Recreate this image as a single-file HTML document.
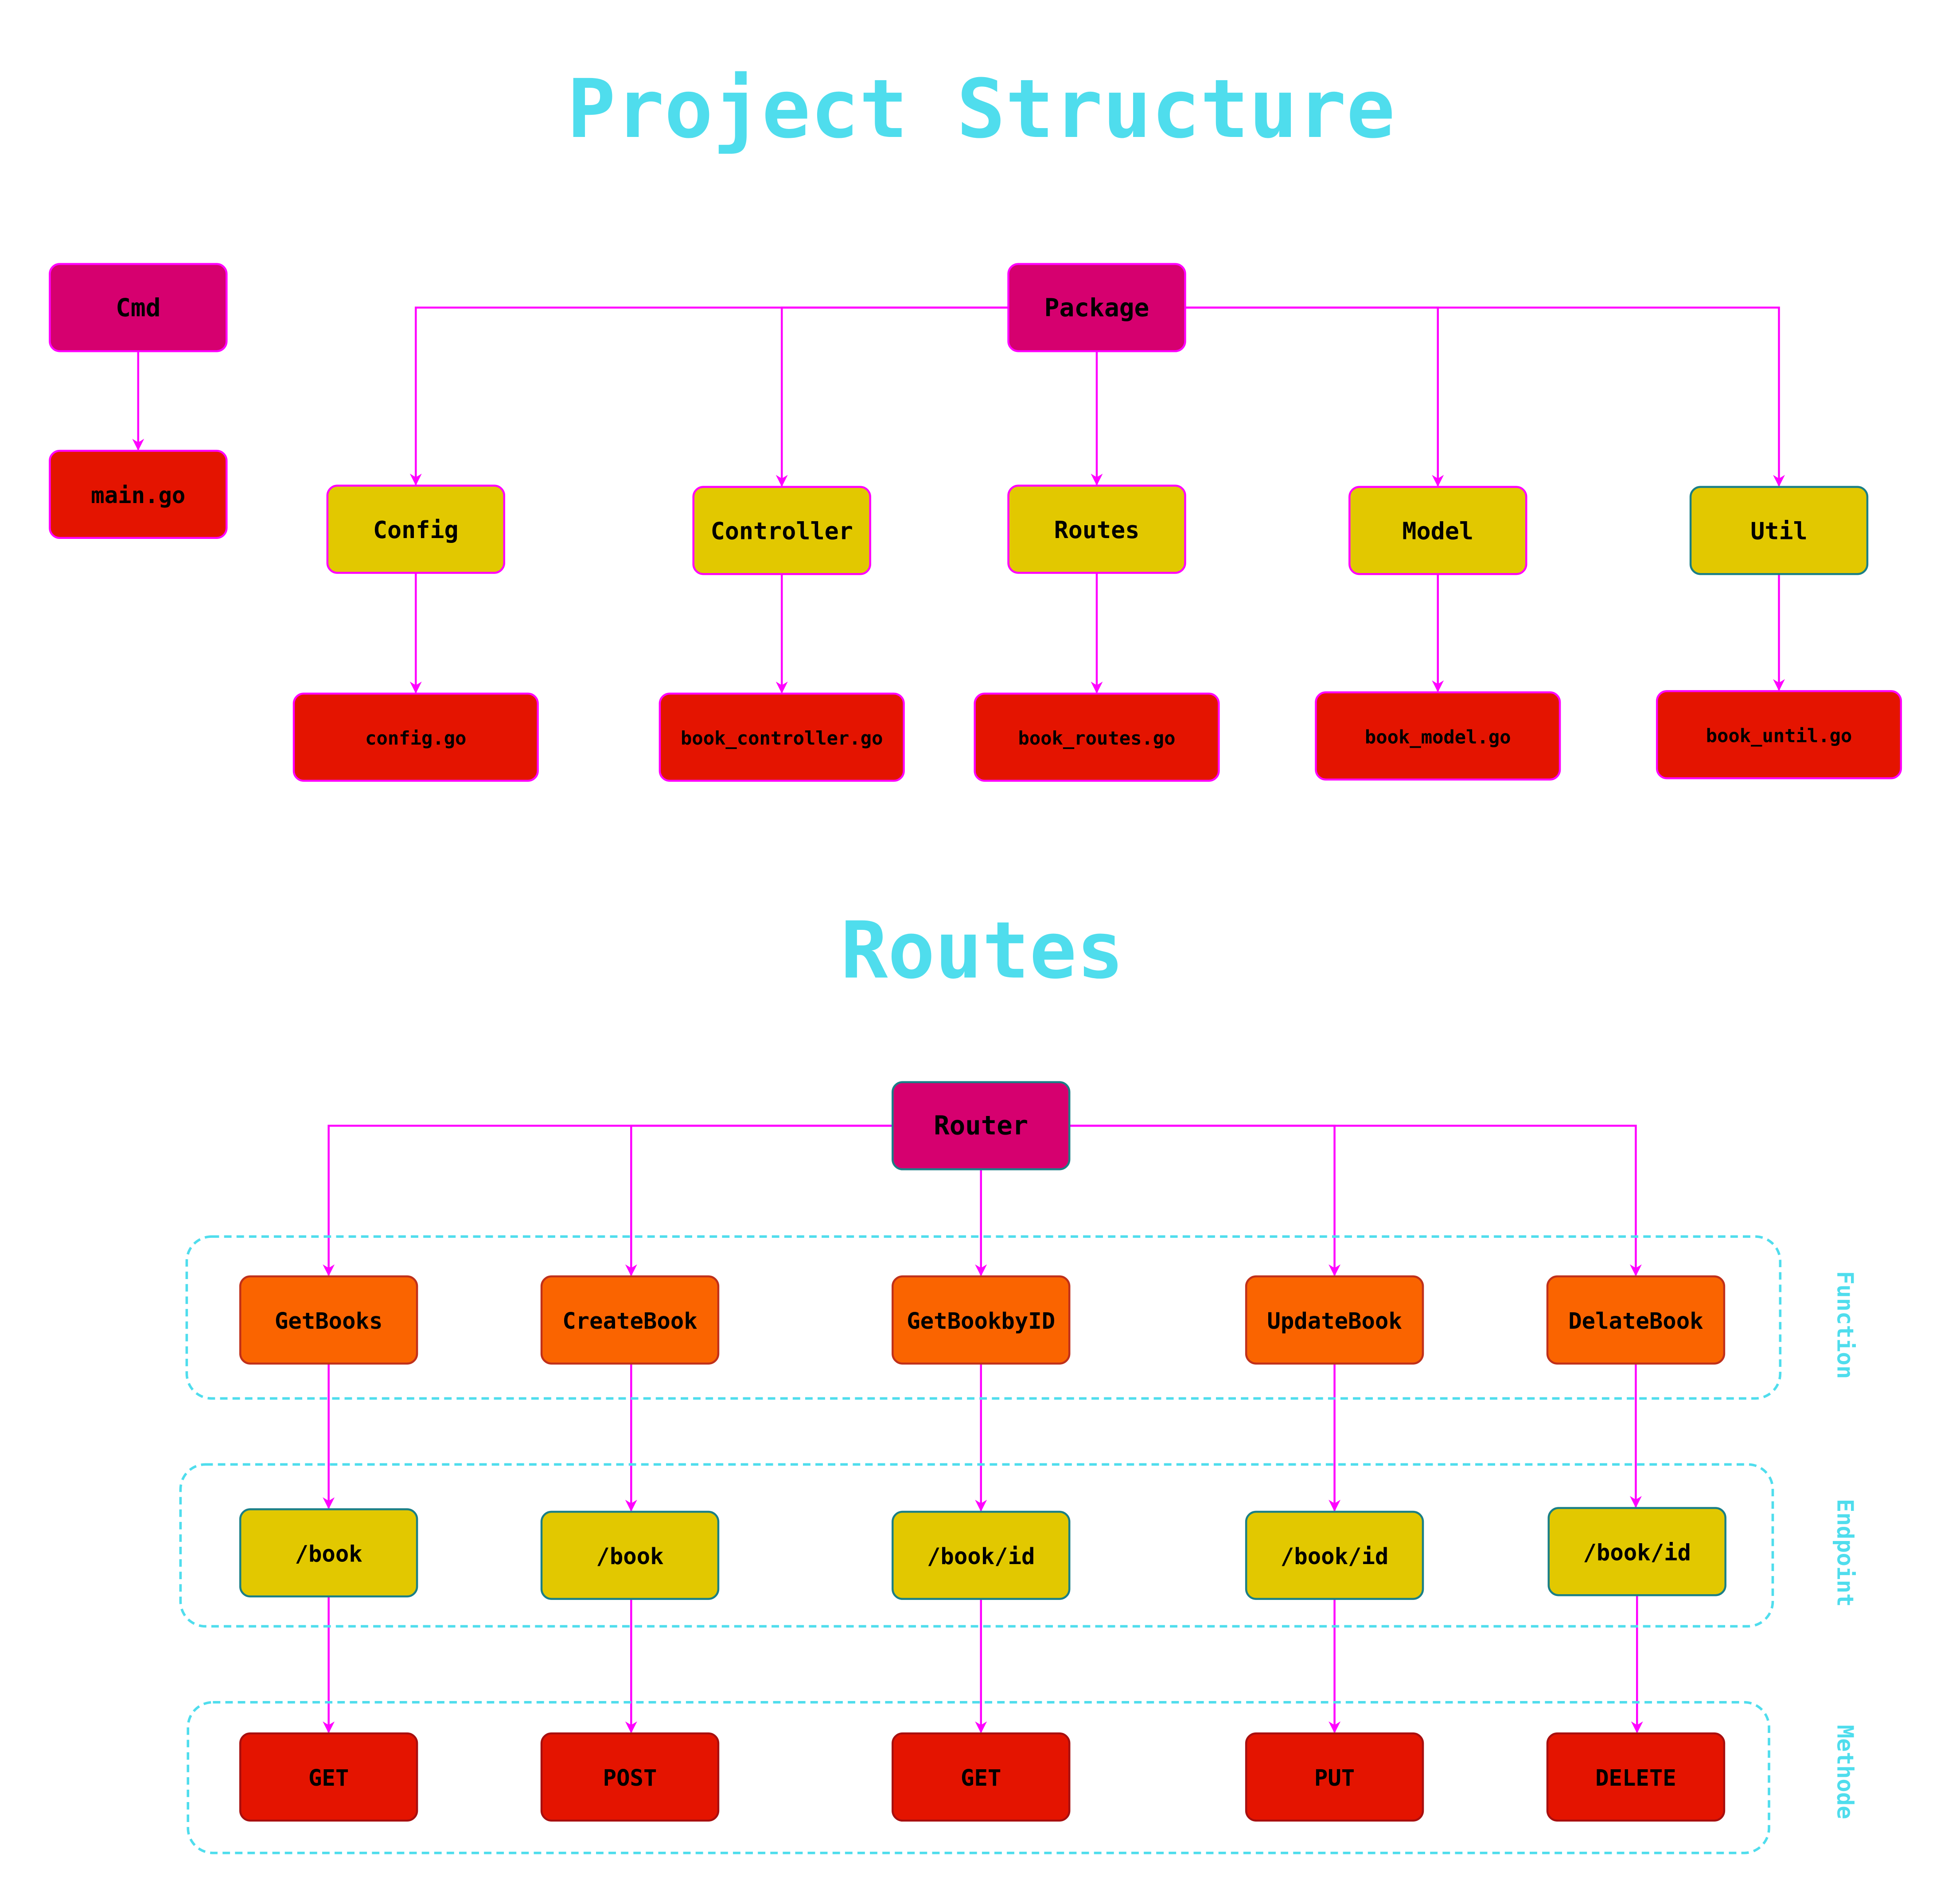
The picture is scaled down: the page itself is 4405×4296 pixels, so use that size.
<!DOCTYPE html>
<html><head><meta charset="utf-8"><style>
html,body{margin:0;padding:0;background:#fff;}
svg{display:block;}
text{font-family:"DejaVu Sans Mono","Liberation Mono",monospace;font-weight:bold;}
</style></head><body>
<svg width="4405" height="4296" viewBox="0 0 1568 1529" preserveAspectRatio="none" xmlns="http://www.w3.org/2000/svg">
<defs>
<marker id="a" viewBox="0 0 10 10" refX="9" refY="5" markerWidth="6" markerHeight="6" orient="auto"><path d="M0,0 L10,5 L0,10 L3,5 z" fill="#ff00ff"/></marker>
</defs>
<text x="788" y="110" font-size="65" fill="#4fdded" text-anchor="middle">Project Structure</text>
<text x="789" y="785" font-size="63" fill="#4fdded" text-anchor="middle">Routes</text>

<g stroke="#ff00ff" stroke-width="1.6" fill="none" marker-end="url(#a)">
<path d="M111,282 V361"/>
<path d="M810,247 H334 V389"/>
<path d="M810,247 H628 V390"/>
<path d="M881,282 V389"/>
<path d="M952,247 H1155 V390"/>
<path d="M952,247 H1429 V390"/>
<path d="M334,460 V556"/>
<path d="M628,461 V556"/>
<path d="M881,460 V556"/>
<path d="M1155,461 V555"/>
<path d="M1429,461 V554"/>
<path d="M717,904 H264 V1024"/>
<path d="M717,904 H507 V1024"/>
<path d="M788,939 V1024"/>
<path d="M859,904 H1072 V1024"/>
<path d="M859,904 H1314 V1024"/>
<path d="M264,1095 V1211"/>
<path d="M507,1095 V1213"/>
<path d="M788,1095 V1213"/>
<path d="M1072,1095 V1213"/>
<path d="M1314,1095 V1210"/>
<path d="M264,1282 V1391"/>
<path d="M507,1284 V1391"/>
<path d="M788,1284 V1391"/>
<path d="M1072,1284 V1391"/>
<path d="M1315,1281 V1391"/>
</g>

<g fill="none" stroke="#4fdded" stroke-width="2" stroke-dasharray="6,4">
<rect x="150" y="993" width="1280" height="130" rx="20"/>
<rect x="145" y="1176" width="1279" height="130" rx="20"/>
<rect x="151" y="1367" width="1270" height="121" rx="20"/>
</g>
<g font-size="18" fill="#4fdded" text-anchor="middle">
<text transform="translate(1476,1064) rotate(90)">Function</text>
<text transform="translate(1476,1247) rotate(90)">Endpoint</text>
<text transform="translate(1476,1423) rotate(90)">Methode</text>
</g>

<g stroke-width="1.6">
<g stroke="#ff00ff">
<rect x="40" y="212" width="142" height="70" rx="8" fill="#d6006f"/>
<rect x="810" y="212" width="142" height="70" rx="8" fill="#d6006f"/>
<rect x="40" y="362" width="142" height="70" rx="8" fill="#e41400"/>
<rect x="263" y="390" width="142" height="70" rx="8" fill="#e2c800"/>
<rect x="557" y="391" width="142" height="70" rx="8" fill="#e2c800"/>
<rect x="810" y="390" width="142" height="70" rx="8" fill="#e2c800"/>
<rect x="1084" y="391" width="142" height="70" rx="8" fill="#e2c800"/>
<rect x="236" y="557" width="196" height="70" rx="8" fill="#e41400"/>
<rect x="530" y="557" width="196" height="70" rx="8" fill="#e41400"/>
<rect x="783" y="557" width="196" height="70" rx="8" fill="#e41400"/>
<rect x="1057" y="556" width="196" height="70" rx="8" fill="#e41400"/>
<rect x="1331" y="555" width="196" height="70" rx="8" fill="#e41400"/>
</g>
<g stroke="#1a7f86">
<rect x="1358" y="391" width="142" height="70" rx="8" fill="#e2c800"/>
<rect x="717" y="869" width="142" height="70" rx="8" fill="#d6006f"/>
<rect x="193" y="1212" width="142" height="70" rx="8" fill="#e2c800"/>
<rect x="435" y="1214" width="142" height="70" rx="8" fill="#e2c800"/>
<rect x="717" y="1214" width="142" height="70" rx="8" fill="#e2c800"/>
<rect x="1001" y="1214" width="142" height="70" rx="8" fill="#e2c800"/>
<rect x="1244" y="1211" width="142" height="70" rx="8" fill="#e2c800"/>
</g>
<g stroke="#c0301a" fill="#fa6400">
<rect x="193" y="1025" width="142" height="70" rx="8"/>
<rect x="435" y="1025" width="142" height="70" rx="8"/>
<rect x="717" y="1025" width="142" height="70" rx="8"/>
<rect x="1001" y="1025" width="142" height="70" rx="8"/>
<rect x="1243" y="1025" width="142" height="70" rx="8"/>
</g>
<g stroke="#a80f0f" fill="#e41400">
<rect x="193" y="1392" width="142" height="70" rx="8"/>
<rect x="435" y="1392" width="142" height="70" rx="8"/>
<rect x="717" y="1392" width="142" height="70" rx="8"/>
<rect x="1001" y="1392" width="142" height="70" rx="8"/>
<rect x="1243" y="1392" width="142" height="70" rx="8"/>
</g>
</g>

<g fill="#000" text-anchor="middle" font-size="20">
<text x="111" y="254">Cmd</text>
<text x="881" y="254">Package</text>
<text x="111" y="404" font-size="18">main.go</text>
<text x="334" y="432" font-size="19">Config</text>
<text x="628" y="433" font-size="19">Controller</text>
<text x="881" y="432" font-size="19">Routes</text>
<text x="1155" y="433" font-size="19">Model</text>
<text x="1429" y="433" font-size="19">Util</text>
<g font-size="15">
<text x="334" y="598">config.go</text>
<text x="628" y="598">book_controller.go</text>
<text x="881" y="598">book_routes.go</text>
<text x="1155" y="597">book_model.go</text>
<text x="1429" y="596">book_until.go</text>
</g>
<text x="788" y="911" font-size="21">Router</text>
<g font-size="18">
<text x="264" y="1067">GetBooks</text>
<text x="506" y="1067">CreateBook</text>
<text x="788" y="1067">GetBookbyID</text>
<text x="1072" y="1067">UpdateBook</text>
<text x="1314" y="1067">DelateBook</text>
<text x="264" y="1254">/book</text>
<text x="506" y="1256">/book</text>
<text x="788" y="1256">/book/id</text>
<text x="1072" y="1256">/book/id</text>
<text x="1315" y="1253">/book/id</text>
<text x="264" y="1434">GET</text>
<text x="506" y="1434">POST</text>
<text x="788" y="1434">GET</text>
<text x="1072" y="1434">PUT</text>
<text x="1314" y="1434">DELETE</text>
</g>
</g>
</svg>
</body></html>
